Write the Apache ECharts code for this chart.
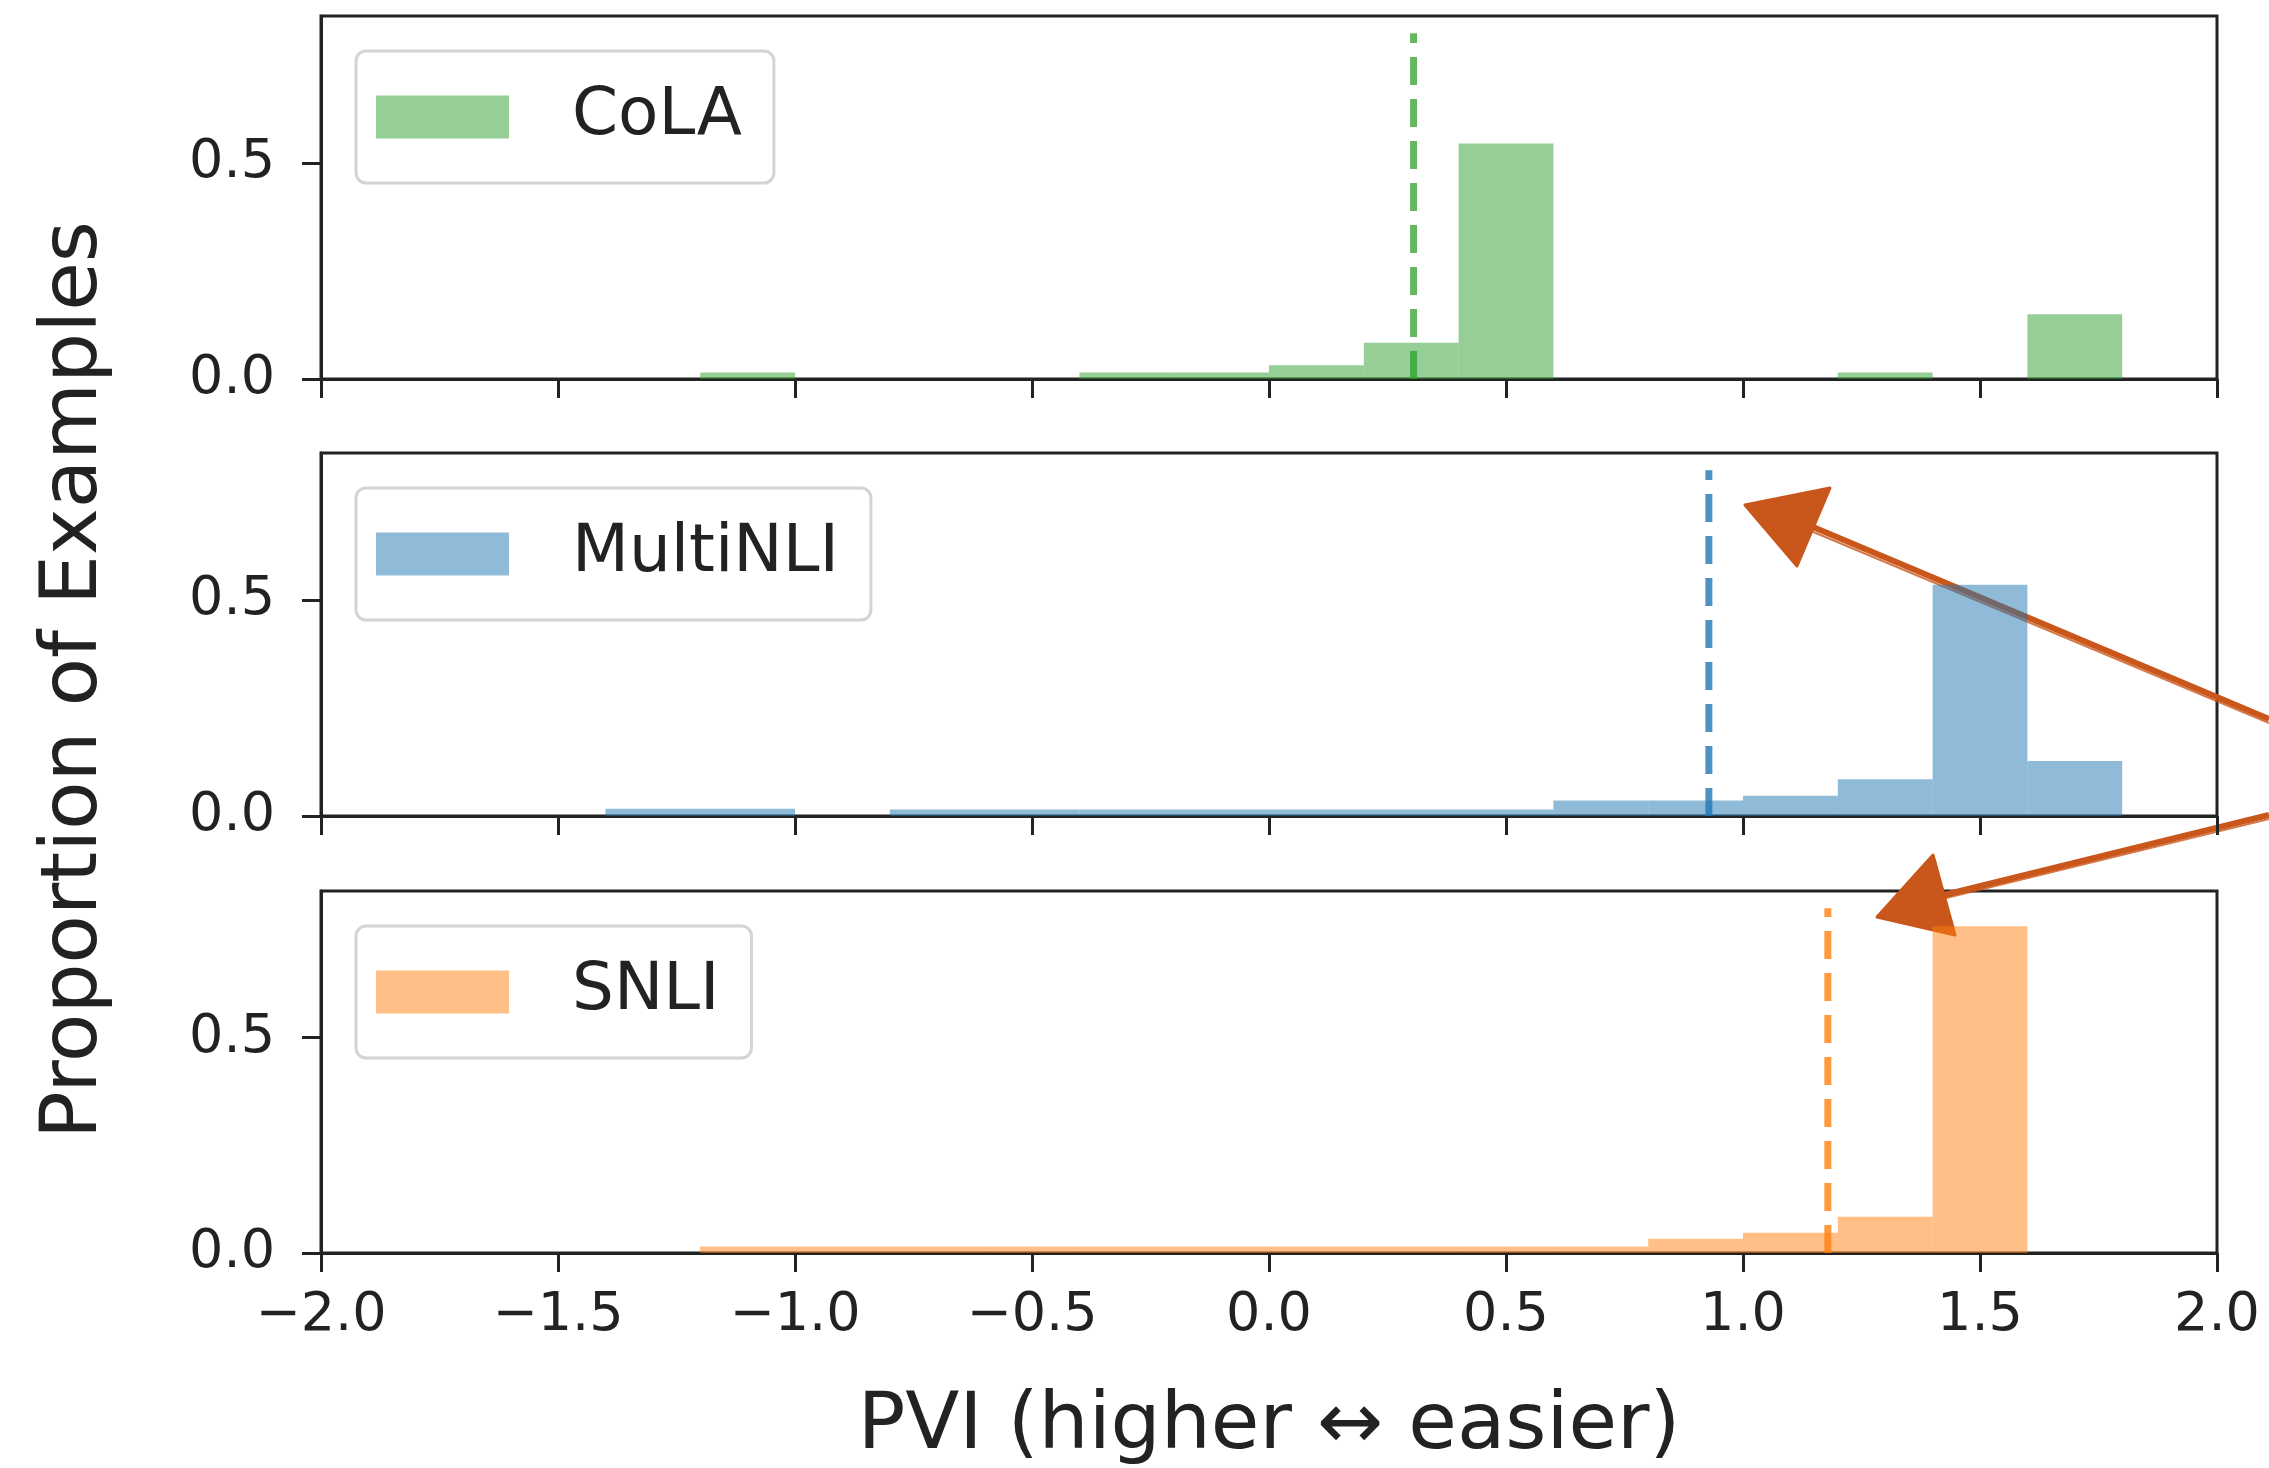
<!DOCTYPE html>
<html>
<head>
<meta charset="utf-8">
<script src="https://cdn.jsdelivr.net/npm/echarts@6/dist/echarts.min.js"></script>
<style>
  html, body { margin: 0; padding: 0; background: #fff; }
  #chart { width: 2269px; height: 1468px; }
</style>
</head>
<body>
<div id="chart"></div>
<script>
// histogram bins of PVI, width 0.2
const binEdges = [-2.0, -1.8, -1.6, -1.4, -1.2, -1.0, -0.8, -0.6, -0.4, -0.2, 0.0,
                  0.2, 0.4, 0.6, 0.8, 1.0, 1.2, 1.4, 1.6, 1.8, 2.0];

// proportion of examples per bin
const colaShare     = [0, 0, 0, 0, 0.015, 0, 0, 0, 0.015, 0.015, 0.032, 0.084, 0.545, 0, 0, 0, 0.015, 0, 0.15, 0];
const multinliShare = [0, 0, 0, 0.017, 0.017, 0, 0.015, 0.015, 0.015, 0.015, 0.015, 0.015, 0.015, 0.036, 0.036, 0.047, 0.085, 0.535, 0.127, 0];
const snliShare     = [0, 0, 0, 0, 0.015, 0.015, 0.015, 0.015, 0.015, 0.015, 0.015, 0.015, 0.015, 0.015, 0.033, 0.047, 0.084, 0.758, 0, 0];

const datasetNames = ['CoLA', 'MultiNLI', 'SNLI'];
const meanPvi = [0.305, 0.928, 1.179];
const meanLineTop = 0.8;

const yTickValues = [0.0, 0.5];

const barColors  = ['rgba(44,160,44,0.5)', 'rgba(31,119,180,0.5)', 'rgba(255,127,14,0.5)'];
const lineColors = ['rgba(44,160,44,0.75)', 'rgba(31,119,180,0.8)', 'rgba(255,127,14,0.8)'];
const shares = [colaShare, multinliShare, snliShare];

const FONT = "'DejaVu Sans', sans-serif";
const INK = '#222';
const ARROW = '#c9561a';

const gridTops = [16, 453, 891];
const legendTops = [51, 488, 926];

const chart = echarts.init(document.getElementById('chart'));

function histSeries(i) {
  const vals = shares[i];
  return {
    type: 'custom',
    name: datasetNames[i],
    xAxisIndex: i,
    yAxisIndex: i,
    itemStyle: { color: barColors[i] },
    encode: { x: [0, 1], y: 2 },
    data: vals.map((v, k) => [binEdges[k], binEdges[k + 1], v]),
    renderItem: (params, api) => {
      const h = api.value(2);
      if (!h) return null;
      const topLeft = api.coord([api.value(0), h]);
      const bottomRight = api.coord([api.value(1), 0]);
      return {
        type: 'rect',
        shape: {
          x: topLeft[0],
          y: topLeft[1],
          width: bottomRight[0] - topLeft[0],
          height: bottomRight[1] - topLeft[1]
        },
        style: { fill: barColors[i] }
      };
    }
  };
}

function meanSeries(i) {
  return {
    type: 'line',
    name: datasetNames[i] + ' mean',
    xAxisIndex: i,
    yAxisIndex: i,
    symbol: 'none',
    data: [[meanPvi[i], 0], [meanPvi[i], meanLineTop]],
    lineStyle: { color: lineColors[i], width: 7, type: [28, 14] },
    z: 3
  };
}

const tickStyle = { show: true, length: 19, inside: false, lineStyle: { color: INK, width: 3 } };

// sketchy arrow: a few overlapping strokes plus a filled head
function arrow(tail, base, head) {
  return [
    { type: 'line', shape: { x1: base[0], y1: base[1], x2: tail[0], y2: tail[1] }, style: { stroke: ARROW, lineWidth: 6 } },
    { type: 'line', shape: { x1: base[0] - 2, y1: base[1] + 4, x2: tail[0], y2: tail[1] + 4 }, style: { stroke: ARROW, lineWidth: 2, opacity: 0.8 } },
    { type: 'polygon', shape: { points: head }, style: { fill: ARROW, stroke: ARROW, lineWidth: 3, lineJoin: 'round' } }
  ];
}

const option = {
  backgroundColor: '#fff',
  animation: false,
  grid: gridTops.map(t => ({
    left: 321, width: 1896, top: t, height: 363,
    show: true, borderColor: INK, borderWidth: 3, backgroundColor: 'transparent'
  })),
  xAxis: [0, 1, 2].map(i => ({
    type: 'value', gridIndex: i, min: -2, max: 2, interval: 0.5,
    splitLine: { show: false },
    axisLine: { show: true, onZero: false, lineStyle: { color: INK, width: 3 } },
    axisTick: tickStyle,
    axisLabel: {
      show: i === 2, margin: 36, fontFamily: FONT, fontSize: 54, color: INK,
      formatter: v => v.toFixed(1).replace('-', '\u2212')
    },
    name: i === 2 ? 'PVI (higher \u2194 easier)' : '',
    nameLocation: 'middle',
    nameGap: 135,
    nameTextStyle: { fontFamily: FONT, fontSize: 79, color: INK }
  })),
  yAxis: [0, 1, 2].map(i => ({
    type: 'value', gridIndex: i, min: 0, max: 0.84, interval: 0.5,
    splitLine: { show: false },
    axisLine: { show: true, onZero: false, lineStyle: { color: INK, width: 3 } },
    axisTick: Object.assign({}, tickStyle, { customValues: yTickValues }),
    axisLabel: {
      margin: 46, fontFamily: FONT, fontSize: 54, color: INK,
      customValues: yTickValues,
      formatter: v => v.toFixed(1)
    }
  })),
  legend: [0, 1, 2].map(i => ({
    data: [datasetNames[i]],
    left: 356,
    top: legendTops[i],
    orient: 'vertical',
    icon: 'rect',
    itemWidth: 133,
    itemHeight: 43,
    padding: [33, 32, 33, 20],
    backgroundColor: '#fff',
    borderColor: '#d4d4d4',
    borderWidth: 3,
    borderRadius: 10,
    selectedMode: false,
    textStyle: { fontFamily: FONT, fontSize: 66, color: INK, padding: [0, 0, 0, 58] }
  })),
  series: [histSeries(0), histSeries(1), histSeries(2), meanSeries(0), meanSeries(1), meanSeries(2)],
  graphic: [
    {
      type: 'text', x: 75, y: 680, rotation: Math.PI / 2,
      style: {
        text: 'Proportion of Examples', fontFamily: FONT, fontSize: 79, fill: INK,
        align: 'center', verticalAlign: 'middle'
      }
    },
    // hand-drawn arrow pointing at the MultiNLI mean line
    ...arrow([2269, 719], [1813, 527], [[1745, 505], [1830, 488], [1797, 566]]),
    // hand-drawn arrow pointing at the SNLI mean line
    ...arrow([2269, 815], [1944, 895], [[1877, 917], [1933, 855], [1955, 935]])
  ]
};

chart.setOption(option);
</script>
</body>
</html>
